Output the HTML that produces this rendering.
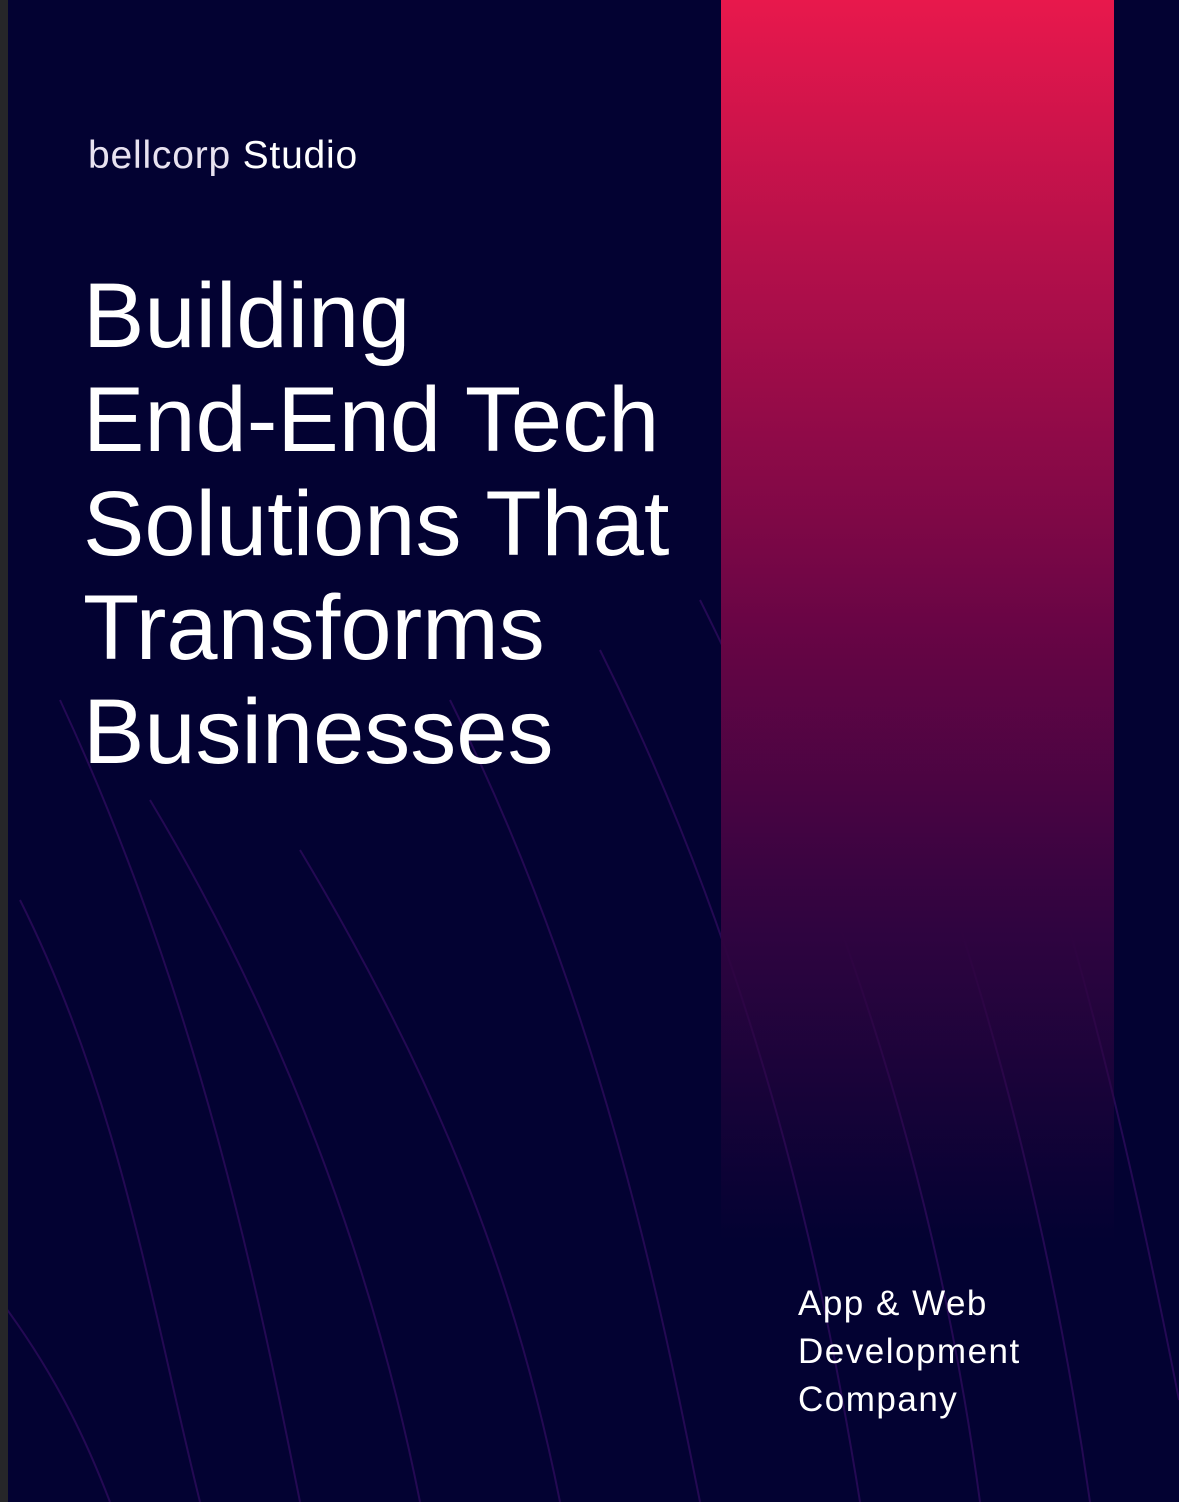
<!DOCTYPE html>
<html><head><meta charset="utf-8"><style>
html,body{margin:0;padding:0}
body{width:1179px;height:1502px;position:relative;overflow:hidden;background:#030232;font-family:"Liberation Sans",sans-serif;color:#fff}
.strip{position:absolute;left:0;top:0;width:8px;height:1502px;background:#262629}
.pink{position:absolute;left:721px;top:0;width:393px;height:1240px;background:linear-gradient(to bottom,#e8184c 0%,#b10f4a 22%,#6a0545 50%,#2f0440 75%,rgba(20,3,50,0) 100%)}
.logo{position:absolute;left:88px;top:134px;font-size:39px;white-space:nowrap;letter-spacing:0.8px}
.logo b{font-weight:normal;color:#e8e2f0}
h1{position:absolute;left:83px;top:264px;margin:0;font-weight:normal;font-size:92px;line-height:104px;letter-spacing:0}
.sub{position:absolute;left:798px;top:1280px;font-size:35px;line-height:48px;letter-spacing:1.5px}
svg{position:absolute;left:0;top:0}
</style></head><body>
<svg width="1179" height="1502">
<g fill="none" stroke="#3a0f6a" stroke-width="2" opacity="0.6">
<path d="M20 900 C120 1100 150 1300 200 1502"/>
<path d="M60 700 C200 1000 260 1300 300 1502"/>
<path d="M150 800 C300 1050 380 1300 420 1502"/>
<path d="M300 850 C450 1100 520 1300 560 1502"/>
<path d="M450 700 C600 1000 660 1300 700 1502"/>
<path d="M600 650 C750 950 820 1250 860 1502"/>
<path d="M700 600 C850 900 940 1200 980 1502"/>
<path d="M800 500 C950 850 1040 1150 1090 1502"/>
<path d="M900 450 C1050 800 1120 1100 1179 1400"/>
<path d="M0 1300 C60 1380 90 1450 110 1502"/>
</g>
</svg>
<div class="strip"></div>
<div class="pink"></div>
<div class="logo"><b>bellcorp</b> Studio</div>
<h1>Building<br>End-End Tech<br>Solutions That<br>Transforms<br>Businesses</h1>
<div class="sub">App &amp; Web<br>Development<br>Company</div>
</body></html>
